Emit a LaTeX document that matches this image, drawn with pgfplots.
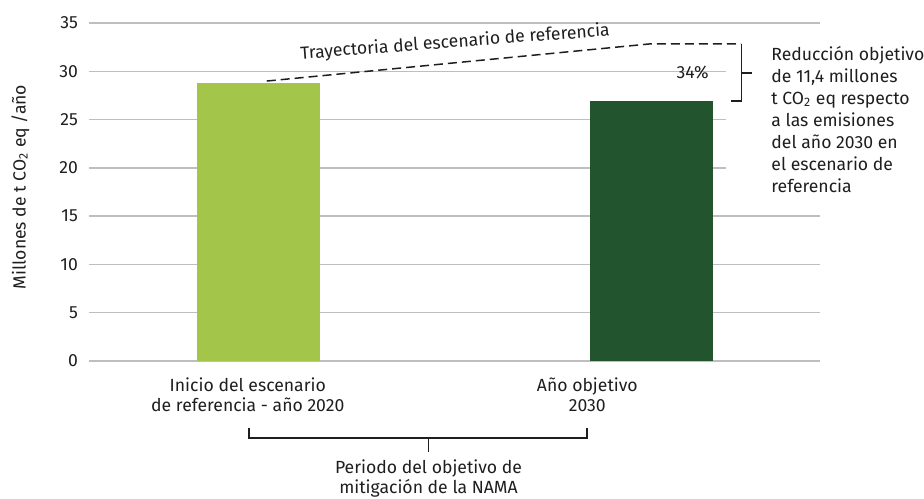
\documentclass[border=0pt]{standalone}
\usepackage{fontspec}
\setmainfont{Fira Sans}
\usepackage{pgfplots}
\pgfplotsset{compat=1.18}
\definecolor{verdeclaro}{RGB}{163,197,74}
\definecolor{verdeoscuro}{RGB}{34,84,45}
\definecolor{rejilla}{RGB}{190,190,190}
\definecolor{texto}{RGB}{30,30,30}
\newcommand{\fs}{\fontsize{8.8}{10}\selectfont}
\newcommand{\fr}{\fontsize{8.8}{11}\selectfont}
\begin{document}
\begin{tikzpicture}
\useasboundingbox (-44.5pt,-68.5pt) rectangle (417.5pt,180.5pt);
\begin{axis}[
  at={(0,0)}, anchor=south west,
  scale only axis, width=365.5pt, height=169pt,
  xmin=-0.4302, xmax=1.4277, ymin=0, ymax=35,
  ytick={0,5,...,35},
  xtick={-0.0266,0.8363},
  xticklabels={{Inicio del escenario\\de referencia - año 2020},{Año objetivo\\2030}},
  ymajorgrids, grid style={rejilla, line width=0.7pt},
  axis line style={draw=none},
  major tick length=0pt,
  tick style={draw=none},
  ticklabel style={font=\fs, text=texto},
  /pgf/number format/assume math mode=true,
  xticklabel style={align=center, yshift=-5pt},
  yticklabel style={xshift=-2pt},
  ylabel={Millones de t CO\textsubscript{2} eq /año},
  ylabel style={font=\fs, text=texto, at={(axis description cs:-0.094,0.515)}, anchor=center},
  clip=false,
]
% barras
\addplot[ybar, bar width=61.5pt, bar shift=0pt, fill=verdeclaro, draw=none] coordinates {(0,28.8)};
\addplot[ybar, bar width=61.5pt, bar shift=0pt, fill=verdeoscuro, draw=none] coordinates {(1,26.9)};
% tapa la rejilla junto al texto
\fill[white] (axis cs:1.189,17) rectangle (axis cs:1.44,32);
% trayectoria de referencia
\addplot[texto, line width=0.75pt, dash pattern=on 4.5pt off 2.5pt] coordinates {(0.0216,28.99)(0.9937,32.83)(1.2272,32.83)};
\draw[texto, line width=0.6pt] (axis cs:1.2272,32.83) -- (axis cs:1.2272,26.92) -- (axis cs:1.2018,26.92);
\draw[texto, line width=0.6pt] (axis cs:1.2272,29.82) -- (axis cs:1.2551,29.82);
\node[font=\fs, text=texto, rotate=4.3, anchor=base] at (axis cs:0.501,32.46) {Trayectoria del escenario de referencia};
\node[font=\fs, text=texto, anchor=base] at (axis cs:1.104,29.3) {34\%};
\node[font=\fr, text=texto, anchor=north west, align=left, inner sep=0pt] at (axis cs:1.3033,32.62)
  {Reducción objetivo\\de 11,4 millones\\t CO\textsubscript{2} eq respecto\\a las emisiones\\del año 2030 en\\el escenario de\\referencia};
% periodo
\draw[texto, line width=0.6pt] (axis cs:-0.0234,-6.94) -- (axis cs:-0.0234,-7.97) -- (axis cs:0.8355,-7.97) -- (axis cs:0.8355,-6.94);
\draw[texto, line width=0.6pt] (axis cs:0.4327,-7.97) -- (axis cs:0.4327,-9.42);
\node[font=\fs, text=texto, align=center, anchor=north, inner sep=0pt] at (axis cs:0.4327,-10.2)
  {Periodo del objetivo de\\mitigación de la NAMA};
\end{axis}
\end{tikzpicture}
\end{document}
